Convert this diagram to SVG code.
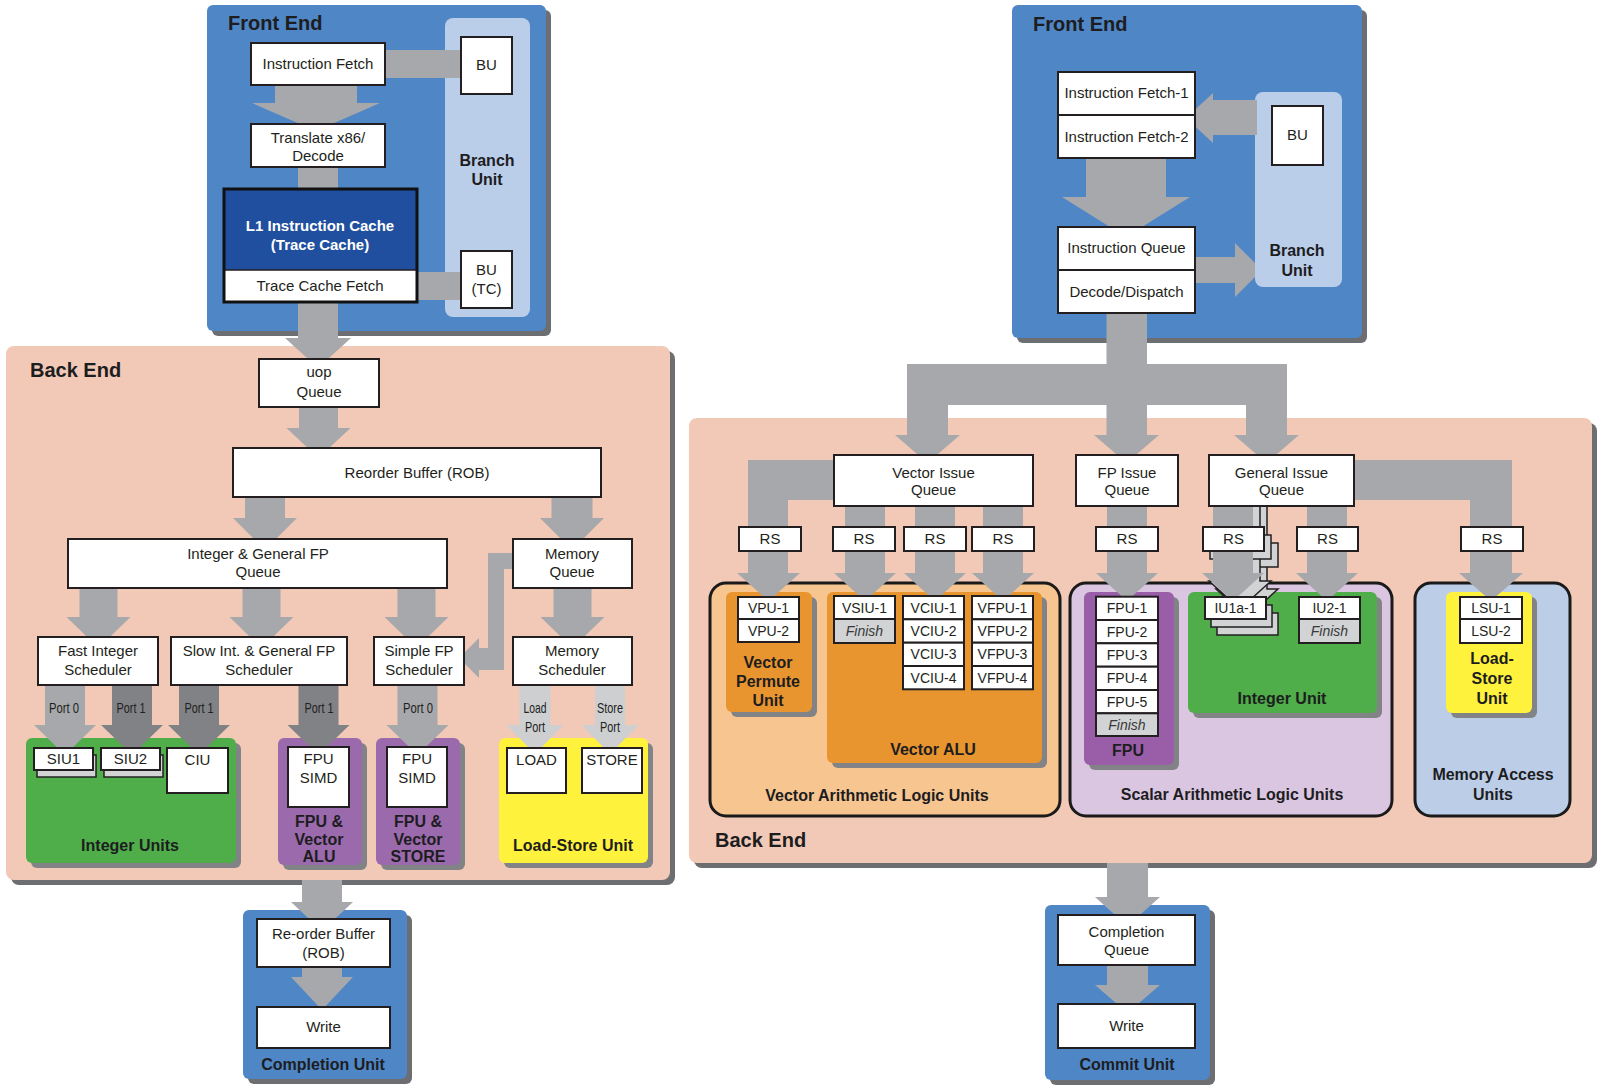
<svg xmlns="http://www.w3.org/2000/svg" width="1600" height="1089" viewBox="0 0 1600 1089">
<style>
text{font-family:"Liberation Sans",Arial,sans-serif;fill:#231f20;text-anchor:middle}
.t{font-size:15px}
.s{font-size:14px}
.it{font-size:14px;font-style:italic;fill:#3a3a3a}
.b{font-size:16px;font-weight:bold;fill:#1d1d1f}
.h{font-size:20px;font-weight:bold;fill:#1d1d1f;text-anchor:start}
.p{font-size:14.5px}
.box{fill:#fff;stroke:#231f20;stroke-width:2}
.fin{fill:#d1d3d4;stroke:#231f20;stroke-width:2}
.cp{fill:#d1d3d4;stroke:#231f20;stroke-width:1.5}
.sh{fill:#6d6e71}
.ush{fill:#828386}
.blue{fill:#4f86c6}
.lb{fill:#bacde9}
.peach{fill:#f2c9b7}
.green{fill:#4fae4a}
.purple{fill:#9b6aad}
.yellow{fill:#fff23d}
.orange{fill:#e9952f}
.cont{stroke:#1a1a1a;stroke-width:3}
.arr{fill:#a6a8ab}
.dk{fill:#808285}
.lt{fill:#cdcfd1}
</style>

<!-- ================= PANELS ================= -->
<g id="front-end-left">
<rect class="sh" x="212" y="10" width="339" height="326" rx="6"/>
<rect class="blue" x="207" y="5" width="339" height="326" rx="6"/>
<text class="h" x="228" y="30">Front End</text>
</g>
<g id="branch-unit-left">
<rect class="lb" x="445" y="18" width="85" height="299" rx="8"/>
<text class="b" x="487" y="166">Branch</text>
<text class="b" x="487" y="185">Unit</text>
</g>
<g id="back-end-left">
<rect class="sh" x="11" y="351" width="664" height="534" rx="8"/>
<rect class="peach" x="6" y="346" width="664" height="534" rx="8"/>
<text class="h" x="30" y="377">Back End</text>
</g>
<g id="completion-unit">
<rect class="sh" x="248" y="915" width="164" height="169" rx="6"/>
<rect class="blue" x="243" y="910" width="164" height="169" rx="6"/>
<text class="b" x="323" y="1070">Completion Unit</text>
</g>
<g id="integer-units">
<rect class="ush" x="31" y="743" width="210" height="125" rx="6"/>
<rect class="green" x="26" y="738" width="210" height="125" rx="6"/>
<text class="b" x="130" y="851">Integer Units</text>
</g>
<g id="fpu-vector-alu">
<rect class="ush" x="283" y="743" width="84" height="127" rx="6"/>
<rect class="purple" x="278" y="738" width="84" height="127" rx="6"/>
<text class="b" x="319" y="827">FPU &amp;</text>
<text class="b" x="319" y="845">Vector</text>
<text class="b" x="319" y="862">ALU</text>
</g>
<g id="fpu-vector-store">
<rect class="ush" x="381" y="743" width="84" height="127" rx="6"/>
<rect class="purple" x="376" y="738" width="84" height="127" rx="6"/>
<text class="b" x="418" y="827">FPU &amp;</text>
<text class="b" x="418" y="845">Vector</text>
<text class="b" x="418" y="862">STORE</text>
</g>
<g id="load-store-unit-left">
<rect class="ush" x="504" y="743" width="149" height="125" rx="6"/>
<rect class="yellow" x="499" y="738" width="149" height="125" rx="6"/>
<text class="b" x="573" y="851">Load-Store Unit</text>
</g>

<g id="front-end-right">
<rect class="sh" x="1017" y="10" width="350" height="333" rx="6"/>
<rect class="blue" x="1012" y="5" width="350" height="333" rx="6"/>
<text class="h" x="1033" y="31">Front End</text>
</g>
<g id="branch-unit-right">
<rect class="lb" x="1255" y="92" width="87" height="195" rx="8"/>
<text class="b" x="1297" y="256">Branch</text>
<text class="b" x="1297" y="276">Unit</text>
</g>
<g id="back-end-right">
<rect class="sh" x="694" y="423" width="903" height="445" rx="8"/>
<rect class="peach" x="689" y="418" width="903" height="445" rx="8"/>
<text class="h" x="715" y="847">Back End</text>
</g>
<g id="commit-unit">
<rect class="sh" x="1050" y="910" width="165" height="175" rx="6"/>
<rect class="blue" x="1045" y="905" width="165" height="175" rx="6"/>
<text class="b" x="1127" y="1070">Commit Unit</text>
</g>
<g id="vector-alus">
<rect class="cont" x="710" y="583" width="350" height="233" rx="16" fill="#f7c58f"/>
<text class="b" x="877" y="801">Vector Arithmetic Logic Units</text>
</g>
<g id="vector-permute-unit">
<rect class="ush" x="731" y="597" width="86" height="120" rx="6"/>
<rect class="orange" x="726" y="592" width="86" height="120" rx="6"/>
<text class="b" x="768" y="668">Vector</text>
<text class="b" x="768" y="687">Permute</text>
<text class="b" x="768" y="706">Unit</text>
</g>
<g id="vector-alu">
<rect class="ush" x="832" y="597" width="215" height="171" rx="6"/>
<rect class="orange" x="827" y="592" width="215" height="171" rx="6"/>
<text class="b" x="933" y="755">Vector ALU</text>
</g>
<g id="scalar-alus">
<rect class="cont" x="1070" y="583" width="322" height="233" rx="16" fill="#dac6e0"/>
<text class="b" x="1232" y="800">Scalar Arithmetic Logic Units</text>
</g>
<g id="fpu-right">
<rect class="ush" x="1089" y="597" width="90" height="173" rx="6"/>
<rect x="1084" y="592" width="90" height="173" rx="6" fill="#9a5ea8"/>
<text class="b" x="1128" y="756">FPU</text>
</g>
<g id="integer-unit">
<rect class="ush" x="1193" y="597" width="189" height="121" rx="6"/>
<rect class="green" x="1188" y="592" width="189" height="121" rx="6"/>
<text class="b" x="1282" y="704">Integer Unit</text>
</g>
<g id="memory-access-units">
<rect class="cont" x="1415" y="583" width="155" height="233" rx="16" fill="#bccde7"/>
<text class="b" x="1493" y="780">Memory Access</text>
<text class="b" x="1493" y="800">Units</text>
</g>
<g id="load-store-unit-right">
<rect class="ush" x="1451" y="597" width="86" height="121" rx="6"/>
<rect class="yellow" x="1446" y="592" width="86" height="121" rx="6"/>
<text class="b" x="1492" y="664">Load-</text>
<text class="b" x="1492" y="684">Store</text>
<text class="b" x="1492" y="704">Unit</text>
</g>

<!-- ================= CONNECTORS ================= -->
<g id="connectors">
<!-- left front end -->
<rect class="arr" x="385" y="50" width="76" height="28"/>
<rect class="arr" x="417" y="272" width="44" height="28"/>
<polygon class="arr" points="275,85 357,85 357,103 380,103 316,131 252,103 275,103"/>
<rect class="arr" x="298" y="167" width="40" height="23"/>
<polygon class="arr" points="298,302 338,302 338,338 351,338 318,368 285,338 298,338"/>
<!-- left back end -->
<polygon class="arr" points="299,407 338,407 338,428 350.5,428 318.5,458 286.5,428 299,428"/>
<polygon class="arr" points="245,497 285,497 285,518 297,518 265,550 233,518 245,518"/>
<polygon class="arr" points="551.5,497 592.5,497 592.5,518 604,518 572,550 540,518 551.5,518"/>
<polygon class="arr" points="79.5,588 117.5,588 117.5,617 130.5,617 98.5,648 66.5,617 79.5,617"/>
<polygon class="arr" points="242.5,588 280.5,588 280.5,617 293.5,617 261.5,648 229.5,617 242.5,617"/>
<polygon class="arr" points="397.5,588 435.5,588 435.5,617 448.5,617 416.5,648 384.5,617 397.5,617"/>
<polygon class="arr" points="553.5,588 591.5,588 591.5,617 604.5,617 572.5,648 540.5,617 553.5,617"/>
<polygon class="arr" points="512,553 488,553 488,648 479,648 479,638 459,658 479,678 479,670 504,670 504,569 512,569"/>
<polygon class="arr" points="45,685 85,685 85,725 96,725 65,755 34,725 45,725"/>
<polygon class="dk" points="112,685 152,685 152,725 163,725 132,755 101,725 112,725"/>
<polygon class="dk" points="179,685 219,685 219,725 230,725 199,755 168,725 179,725"/>
<polygon class="dk" points="298.5,685 338.5,685 338.5,725 349.5,725 318.5,755 287.5,725 298.5,725"/>
<polygon class="arr" points="397.5,685 437.5,685 437.5,725 448.5,725 417.5,755 386.5,725 397.5,725"/>
<polygon class="lt" points="519.5,685 550.5,685 550.5,725 563.5,725 535,754 506.5,725 519.5,725"/>
<polygon class="lt" points="595,685 625,685 625,725 638.5,725 610,754 581.5,725 595,725"/>
<text class="p" x="64" y="713" textLength="30" lengthAdjust="spacingAndGlyphs">Port 0</text>
<text class="p" x="131" y="713" textLength="29" lengthAdjust="spacingAndGlyphs">Port 1</text>
<text class="p" x="199" y="713" textLength="29" lengthAdjust="spacingAndGlyphs">Port 1</text>
<text class="p" x="319" y="713" textLength="29" lengthAdjust="spacingAndGlyphs">Port 1</text>
<text class="p" x="418" y="713" textLength="30" lengthAdjust="spacingAndGlyphs">Port 0</text>
<text class="p" x="535" y="713" textLength="23" lengthAdjust="spacingAndGlyphs">Load</text>
<text class="p" x="535" y="732" textLength="20" lengthAdjust="spacingAndGlyphs">Port</text>
<text class="p" x="610" y="713" textLength="26" lengthAdjust="spacingAndGlyphs">Store</text>
<text class="p" x="610" y="732" textLength="20" lengthAdjust="spacingAndGlyphs">Port</text>
<!-- left completion -->
<polygon class="arr" points="302,880 342,880 342,902 353,902 322,931 291,902 302,902"/>
<polygon class="arr" points="302,967 342,967 342,977 353,977 322,1010 291,977 302,977"/>

<!-- right front end -->
<polygon class="arr" points="1257,100 1213,100 1213,93 1186,118 1213,143 1213,135 1257,135"/>
<polygon class="arr" points="1086,158 1166,158 1166,197 1190,197 1126,237 1062,197 1086,197"/>
<polygon class="arr" points="1195,257 1235,257 1235,243 1255,263 1255,277 1235,297 1235,283 1195,283"/>
<!-- dispatch tree -->
<rect class="arr" x="1106.5" y="310" width="40.5" height="56"/>
<rect class="arr" x="907" y="364" width="380" height="41"/>
<rect class="arr" x="907" y="403" width="41" height="33"/>
<rect class="arr" x="1106.5" y="403" width="40.5" height="33"/>
<rect class="arr" x="1246" y="403" width="41" height="33"/>
<polygon class="arr" points="895,435 960,435 927.5,463"/>
<polygon class="arr" points="1094,435 1159,435 1126.5,463"/>
<polygon class="arr" points="1234,435 1299,435 1266.5,463"/>
<!-- vector issue -->
<polygon class="arr" points="834,460 748,460 748,573 737,573 768.5,601 800,573 788,573 788,500 834,500"/>
<polygon class="arr" points="845,500 885,500 885,573 896,573 865,601 834,573 845,573"/>
<polygon class="arr" points="915,500 955,500 955,573 966,573 935,601 904,573 915,573"/>
<polygon class="arr" points="983,500 1023,500 1023,573 1034,573 1003,601 972,573 983,573"/>
<!-- fp issue -->
<polygon class="arr" points="1107,500 1147,500 1147,573 1158,573 1127,601 1096,573 1107,573"/>
<!-- general issue: stacked IU1 path -->
<polygon class="cp" points="1227,490 1267,490 1267,589 1278,589 1247,617 1216,589 1227,589"/>
<rect class="cp" x="1217" y="543" width="61" height="24"/>
<polygon class="cp" points="1220,490 1260,490 1260,581 1271,581 1240,609 1209,581 1220,581"/>
<rect class="cp" x="1210" y="535" width="61" height="24"/>
<polygon class="arr" points="1213,500 1253,500 1253,573 1264,573 1233,601 1202,573 1213,573"/>
<polygon class="arr" points="1307,500 1347,500 1347,573 1358,573 1327,601 1296,573 1307,573"/>
<polygon class="arr" points="1354,460 1512,460 1512,573 1523,573 1491,601 1459,573 1470,573 1470,500 1354,500"/>
<!-- to commit -->
<polygon class="arr" points="1107,863 1148,863 1148,897 1160,897 1127.5,926 1095,897 1107,897"/>
<polygon class="arr" points="1107,965 1148,965 1148,985 1160,985 1127.5,1013 1095,985 1107,985"/>
</g>

<!-- ================= BOXES ================= -->
<g id="instruction-fetch-left"><rect class="box" x="251" y="43" width="134" height="42"/><text class="t" x="318" y="69">Instruction Fetch</text></g>
<g id="bu-left"><rect class="box" x="461" y="37" width="51" height="57"/><text class="t" x="486.5" y="70">BU</text></g>
<g id="translate-decode"><rect class="box" x="251" y="124" width="134" height="43"/><text class="t" x="318" y="143">Translate x86/</text><text class="t" x="318" y="161">Decode</text></g>
<g id="l1-instruction-cache">
<rect x="224" y="189" width="193" height="81" fill="#1f4f9e"/>
<rect x="224" y="270" width="193" height="32" fill="#fff" stroke="#231f20" stroke-width="1.5"/>
<rect x="224" y="189" width="193" height="113" fill="none" stroke="#111" stroke-width="3"/>
<text class="b" x="320" y="231" style="fill:#fff;font-size:15px">L1 Instruction Cache</text>
<text class="b" x="320" y="250" style="fill:#fff;font-size:15px">(Trace Cache)</text>
<text class="t" x="320" y="291">Trace Cache Fetch</text>
</g>
<g id="bu-tc"><rect class="box" x="461" y="251" width="51" height="57"/><text class="t" x="486.5" y="275">BU</text><text class="t" x="486.5" y="294">(TC)</text></g>

<g id="uop-queue"><rect class="box" x="259" y="359" width="120" height="48"/><text class="t" x="319" y="377">uop</text><text class="t" x="319" y="397">Queue</text></g>
<g id="reorder-buffer"><rect class="box" x="233" y="448" width="368" height="49"/><text class="t" x="417" y="478">Reorder Buffer (ROB)</text></g>
<g id="int-fp-queue"><rect class="box" x="68" y="539" width="379" height="49"/><text class="t" x="258" y="559">Integer &amp; General FP</text><text class="t" x="258" y="577">Queue</text></g>
<g id="memory-queue"><rect class="box" x="513" y="539" width="119" height="49"/><text class="t" x="572" y="559">Memory</text><text class="t" x="572" y="577">Queue</text></g>
<g id="fast-int-scheduler"><rect class="box" x="38" y="637" width="120" height="48"/><text class="t" x="98" y="656">Fast Integer</text><text class="t" x="98" y="675">Scheduler</text></g>
<g id="slow-int-scheduler"><rect class="box" x="171" y="637" width="176" height="48"/><text class="t" x="259" y="656">Slow Int. &amp; General FP</text><text class="t" x="259" y="675">Scheduler</text></g>
<g id="simple-fp-scheduler"><rect class="box" x="374" y="637" width="90" height="48"/><text class="t" x="419" y="656">Simple FP</text><text class="t" x="419" y="675">Scheduler</text></g>
<g id="memory-scheduler"><rect class="box" x="513" y="637" width="119" height="48"/><text class="t" x="572" y="656">Memory</text><text class="t" x="572" y="675">Scheduler</text></g>
<g id="siu1"><rect class="cp" x="37" y="755" width="59" height="22"/><rect class="box" x="34" y="748" width="59" height="22"/><text class="t" x="63.5" y="764">SIU1</text></g>
<g id="siu2"><rect class="cp" x="104" y="755" width="59" height="22"/><rect class="box" x="101" y="748" width="59" height="22"/><text class="t" x="130.5" y="764">SIU2</text></g>
<g id="ciu"><rect class="box" x="167" y="748" width="61" height="45"/><text class="t" x="197.5" y="765">CIU</text></g>
<g id="fpu-simd-1"><rect class="box" x="288" y="747" width="61" height="60"/><text class="t" x="318.5" y="764">FPU</text><text class="t" x="318.5" y="783">SIMD</text></g>
<g id="fpu-simd-2"><rect class="box" x="387" y="747" width="60" height="60"/><text class="t" x="417" y="764">FPU</text><text class="t" x="417" y="783">SIMD</text></g>
<g id="load"><rect class="box" x="507" y="748" width="59" height="45"/><text class="t" x="536.5" y="765">LOAD</text></g>
<g id="store"><rect class="box" x="582" y="748" width="60" height="45"/><text class="t" x="612" y="765">STORE</text></g>
<g id="reorder-buffer-2"><rect class="box" x="257" y="919" width="133" height="48"/><text class="t" x="323.5" y="939">Re-order Buffer</text><text class="t" x="323.5" y="958">(ROB)</text></g>
<g id="write-left"><rect class="box" x="257" y="1007" width="133" height="41"/><text class="t" x="323.5" y="1032">Write</text></g>

<g id="instruction-fetch-12"><rect class="box" x="1058" y="72" width="137" height="86"/><line x1="1058" y1="115" x2="1195" y2="115" stroke="#231f20" stroke-width="2"/><text class="t" x="1126.5" y="98">Instruction Fetch-1</text><text class="t" x="1126.5" y="142">Instruction Fetch-2</text></g>
<g id="bu-right"><rect class="box" x="1272" y="106" width="51" height="59"/><text class="t" x="1297.5" y="140">BU</text></g>
<g id="instruction-queue-decode"><rect class="box" x="1058" y="227" width="137" height="86"/><line x1="1058" y1="270" x2="1195" y2="270" stroke="#231f20" stroke-width="2"/><text class="t" x="1126.5" y="253">Instruction Queue</text><text class="t" x="1126.5" y="297">Decode/Dispatch</text></g>
<g id="vector-issue-queue"><rect class="box" x="834" y="455" width="199" height="51"/><text class="t" x="933.5" y="478">Vector Issue</text><text class="t" x="933.5" y="495">Queue</text></g>
<g id="fp-issue-queue"><rect class="box" x="1076" y="455" width="102" height="51"/><text class="t" x="1127" y="478">FP Issue</text><text class="t" x="1127" y="495">Queue</text></g>
<g id="general-issue-queue"><rect class="box" x="1209" y="455" width="145" height="51"/><text class="t" x="1281.5" y="478">General Issue</text><text class="t" x="1281.5" y="495">Queue</text></g>
<g id="rs-1"><rect class="box" x="739" y="527" width="62" height="24"/><text class="t" x="770" y="544">RS</text></g>
<g id="rs-2"><rect class="box" x="833" y="527" width="62" height="24"/><text class="t" x="864" y="544">RS</text></g>
<g id="rs-3"><rect class="box" x="904" y="527" width="62" height="24"/><text class="t" x="935" y="544">RS</text></g>
<g id="rs-4"><rect class="box" x="972" y="527" width="62" height="24"/><text class="t" x="1003" y="544">RS</text></g>
<g id="rs-5"><rect class="box" x="1096" y="527" width="62" height="24"/><text class="t" x="1127" y="544">RS</text></g>
<g id="rs-6"><rect class="box" x="1203" y="527" width="61" height="24"/><text class="t" x="1233.5" y="544">RS</text></g>
<g id="rs-7"><rect class="box" x="1297" y="527" width="61" height="24"/><text class="t" x="1327.5" y="544">RS</text></g>
<g id="rs-8"><rect class="box" x="1461" y="527" width="62" height="24"/><text class="t" x="1492" y="544">RS</text></g>

<g id="vpu"><rect class="box" x="738" y="597" width="61" height="22"/><rect class="box" x="738" y="619" width="61" height="23"/><text class="s" x="768.5" y="613">VPU-1</text><text class="s" x="768.5" y="636">VPU-2</text></g>
<g id="vsiu"><rect class="box" x="834" y="596" width="61" height="23"/><rect class="fin" x="834" y="619" width="61" height="24"/><text class="s" x="864.5" y="613">VSIU-1</text><text class="it" x="864.5" y="636">Finish</text></g>
<g id="vciu"><rect class="box" x="903" y="596" width="61" height="23.3"/><rect class="box" x="903" y="619.3" width="61" height="23.4"/><rect class="box" x="903" y="642.7" width="61" height="23.3"/><rect class="box" x="903" y="666" width="61" height="23.3"/><text class="s" x="933.5" y="613">VCIU-1</text><text class="s" x="933.5" y="636">VCIU-2</text><text class="s" x="933.5" y="659">VCIU-3</text><text class="s" x="933.5" y="683">VCIU-4</text></g>
<g id="vfpu"><rect class="box" x="972" y="596" width="61" height="23.3"/><rect class="box" x="972" y="619.3" width="61" height="23.4"/><rect class="box" x="972" y="642.7" width="61" height="23.3"/><rect class="box" x="972" y="666" width="61" height="23.3"/><text class="s" x="1002.5" y="613">VFPU-1</text><text class="s" x="1002.5" y="636">VFPU-2</text><text class="s" x="1002.5" y="659">VFPU-3</text><text class="s" x="1002.5" y="683">VFPU-4</text></g>
<g id="fpu-pipeline"><rect class="box" x="1096" y="596.7" width="62" height="23.3"/><rect class="box" x="1096" y="620" width="62" height="23.3"/><rect class="box" x="1096" y="643.3" width="62" height="23.4"/><rect class="box" x="1096" y="666.7" width="62" height="23.3"/><rect class="box" x="1096" y="690" width="62" height="23.3"/><rect class="fin" x="1096" y="713.3" width="62" height="22.7"/><text class="s" x="1127" y="613">FPU-1</text><text class="s" x="1127" y="637">FPU-2</text><text class="s" x="1127" y="660">FPU-3</text><text class="s" x="1127" y="683">FPU-4</text><text class="s" x="1127" y="707">FPU-5</text><text class="it" x="1127" y="730">Finish</text></g>
<g id="iu1a"><rect class="cp" x="1217" y="613" width="61" height="22"/><rect class="cp" x="1211" y="605" width="61" height="22"/><rect class="box" x="1205" y="597" width="61" height="22"/><text class="s" x="1235.5" y="613">IU1a-1</text></g>
<g id="iu2"><rect class="box" x="1299" y="597" width="61" height="22"/><rect class="fin" x="1299" y="619" width="61" height="24"/><text class="s" x="1329.5" y="613">IU2-1</text><text class="it" x="1329.5" y="636">Finish</text></g>
<g id="lsu"><rect class="box" x="1460" y="597" width="62" height="22"/><rect class="box" x="1460" y="619" width="62" height="24"/><text class="s" x="1491" y="613">LSU-1</text><text class="s" x="1491" y="636">LSU-2</text></g>
<g id="completion-queue"><rect class="box" x="1058" y="915" width="137" height="50"/><text class="t" x="1126.5" y="937">Completion</text><text class="t" x="1126.5" y="955">Queue</text></g>
<g id="write-right"><rect class="box" x="1058" y="1004" width="137" height="44"/><text class="t" x="1126.5" y="1031">Write</text></g>
</svg>
